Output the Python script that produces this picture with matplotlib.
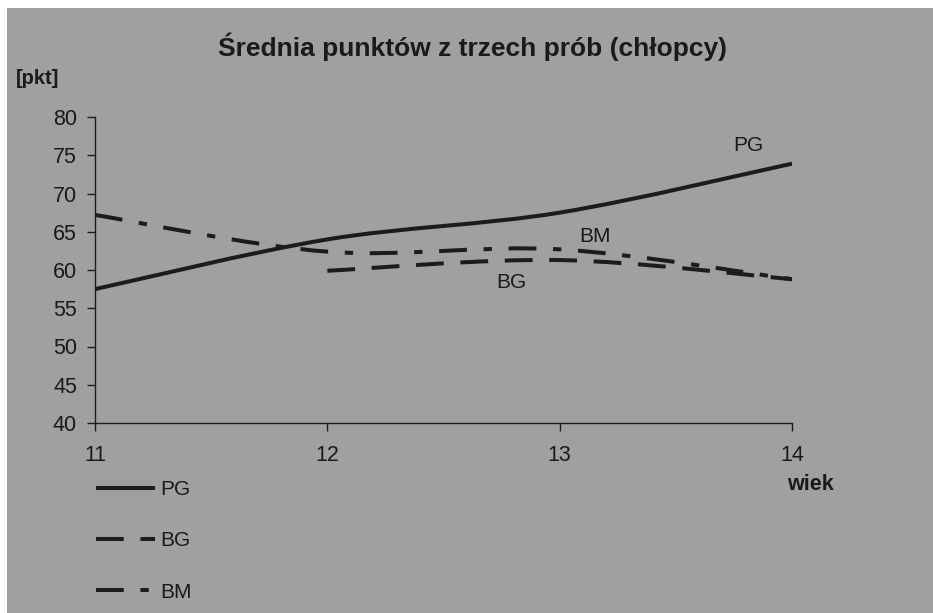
import matplotlib
matplotlib.use("Agg")
import matplotlib.pyplot as plt
from matplotlib.path import Path
from matplotlib.patches import PathPatch
from matplotlib.lines import Line2D
import numpy as np

plt.rcParams['font.family'] = ['Liberation Sans', 'DejaVu Sans']
plt.rcParams['lines.scale_dashes'] = False

# ---- data ----
title = "Średnia punktów z trzech prób (chłopcy)"
ages = [11, 12, 13, 14]
series_names = ["PG", "BG", "BM"]
pg_x = [11, 12, 13, 14]
pg_y = [57.5, 64.0, 67.5, 73.9]
bg_x = [12, 13, 14]
bg_y = [59.9, 61.3, 58.8]
bm_x = [11, 12, 13, 14]
bm_y = [67.2, 62.4, 62.7, 58.8]
y_ticks = [40, 45, 50, 55, 60, 65, 70, 75, 80]

BG_COL = '#a0a0a0'
INK = '#1c1c1c'
LW = 2.9

styles = {
    "PG": dict(linestyle='-'),
    "BG": dict(linestyle=(0, (20, 12))),
    "BM": dict(linestyle=(0, (20, 12, 6, 12))),
}


def smooth_path(xs, ys):
    """Excel-style smoothed line: cubic Bezier through data points."""
    P = np.column_stack([xs, ys]).astype(float)
    n = len(P)
    verts = [tuple(P[0])]
    codes = [Path.MOVETO]
    for i in range(n - 1):
        p0 = P[i - 1] if i > 0 else P[i]
        p1 = P[i]
        p2 = P[i + 1]
        p3 = P[i + 2] if i + 2 < n else P[i + 1]
        c1 = p1 + (p2 - p0) / 6.0
        c2 = p2 - (p3 - p1) / 6.0
        verts += [tuple(c1), tuple(c2), tuple(p2)]
        codes += [Path.CURVE4] * 3
    return Path(verts, codes)


fig = plt.figure(figsize=(9.33, 6.13), dpi=100)
fig.patch.set_facecolor('white')
# grey scanned background
fig.add_artist(plt.Rectangle((7 / 933, 0), 1 - 7 / 933, 1 - 8 / 613,
                             transform=fig.transFigure, facecolor=BG_COL,
                             edgecolor='none', zorder=-10))

ax = fig.add_axes([95 / 933, 1 - 423 / 613, (792 - 95) / 933, (423 - 117) / 613])
ax.set_facecolor('none')
ax.set_xlim(11, 14)
ax.set_ylim(40, 80)

for name, xs, ys in [("PG", pg_x, pg_y), ("BG", bg_x, bg_y), ("BM", bm_x, bm_y)]:
    patch = PathPatch(smooth_path(xs, ys), facecolor='none', edgecolor=INK,
                      linewidth=LW, capstyle='butt', zorder=3, **styles[name])
    ax.add_patch(patch)

for s in ['top', 'right']:
    ax.spines[s].set_visible(False)
for s in ['left', 'bottom']:
    ax.spines[s].set_color(INK)
    ax.spines[s].set_linewidth(1.0)

ax.set_yticks(y_ticks)
ax.set_xticks(ages)
ax.tick_params(axis='y', direction='out', length=6, width=1, colors=INK,
               labelsize=15.5, pad=7)
ax.tick_params(axis='x', direction='out', length=6, width=1, colors=INK,
               labelsize=15.5, pad=10)
for lab in ax.get_yticklabels() + ax.get_xticklabels():
    lab.set_color('#1a1a1a')

# in-chart labels
ax.text(13.81, 76.3, "PG", fontsize=15, color='#1a1a1a', ha='center', va='center')
ax.text(13.15, 64.4, "BM", fontsize=15, color='#1a1a1a', ha='center', va='center')
ax.text(12.79, 58.4, "BG", fontsize=15, color='#1a1a1a', ha='center', va='center')

fig.text(472 / 933, 1 - 47 / 613, title, fontsize=19, fontweight='bold',
         color='#1a1a1a', ha='center', va='center')
fig.text(38 / 933, 1 - 78 / 613, "[pkt]", fontsize=14.5, fontweight='bold',
         color='#1a1a1a', ha='center', va='center')
fig.text(810 / 933, 1 - 485 / 613, "wiek", fontsize=15.5, fontweight='bold',
         color='#1a1a1a', ha='center', va='center')

handles = [Line2D([], [], color=INK, linewidth=LW, solid_capstyle='butt',
                  dash_capstyle='butt', **styles[n]) for n in series_names]
fig.legend(handles, series_names, loc='upper left',
           bbox_to_anchor=(96 / 933, 1 - 480 / 613), frameon=False,
           fontsize=15, handlelength=2.85, handletextpad=0.25,
           labelspacing=1.55, borderpad=0, borderaxespad=0,
           labelcolor='#1a1a1a')

fig.savefig("out.png", dpi=100, facecolor=fig.get_facecolor())
